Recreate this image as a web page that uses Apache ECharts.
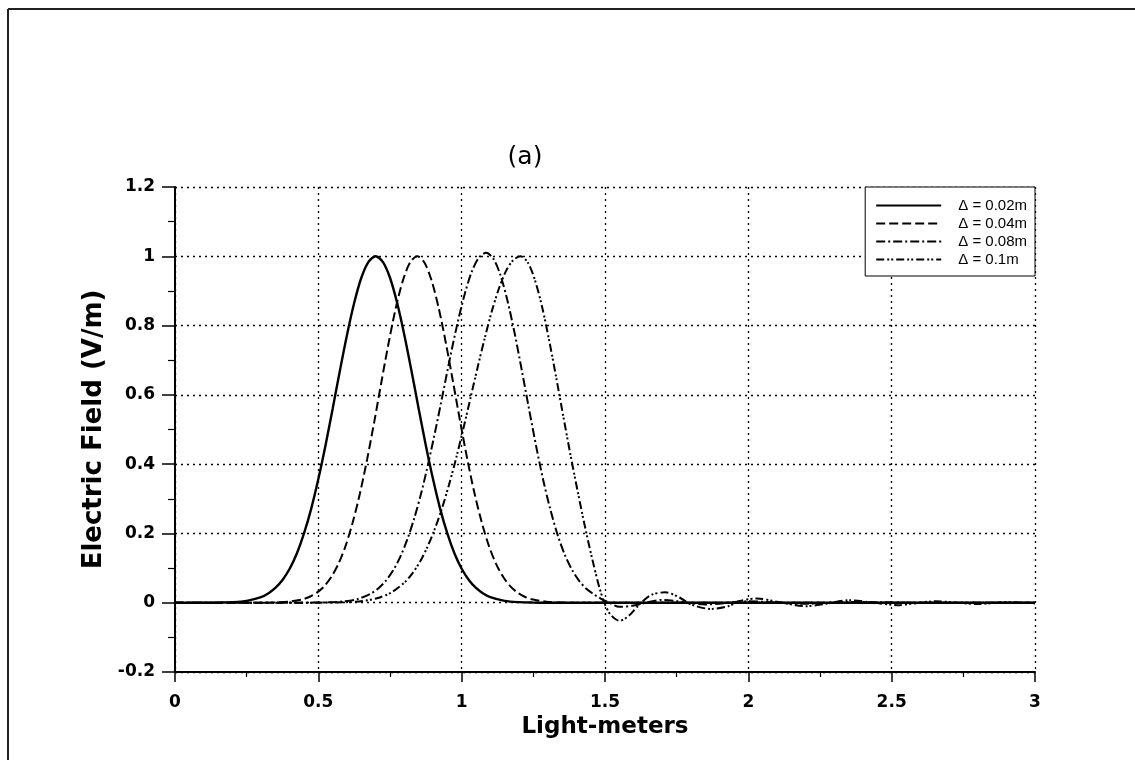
<!DOCTYPE html>
<html>
<head>
<meta charset="utf-8">
<script src="https://cdn.jsdelivr.net/npm/echarts@6/dist/echarts.min.js"></script>
<style>
html,body{margin:0;padding:0;background:#fff;}
#chart{width:1135px;height:760px;}
</style>
</head>
<body>
<div id="chart"></div>
<script>
// ---- data ----
const seriesNames = ['Δ = 0.02m', 'Δ = 0.04m', 'Δ = 0.08m', 'Δ = 0.1m'];
const xTicks = [0, 0.5, 1, 1.5, 2, 2.5, 3];
const yTicks = [-0.2, 0, 0.2, 0.4, 0.6, 0.8, 1, 1.2];

const s1X = [0,0.1,0.15,0.2,0.25,0.3,0.325,0.35,0.375,0.4,0.425,0.45,0.475,0.5,0.525,0.55,0.575,0.6,0.625,0.65,0.675,0.7,0.725,0.75,0.775,0.8,0.825,0.85,0.875,0.9,0.925,0.95,0.975,1.0,1.025,1.05,1.075,1.1,1.15,1.2,1.25,1.3,3.0];
const s1Y = [0,0,0.0004,0.0016,0.0054,0.0162,0.0267,0.0425,0.0657,0.098,0.142,0.2,0.271,0.357,0.454,0.56,0.669,0.773,0.865,0.938,0.984,1.0,0.984,0.938,0.865,0.773,0.669,0.56,0.454,0.357,0.271,0.2,0.142,0.098,0.0657,0.0425,0.0267,0.0162,0.0054,0.0016,0.0004,0,0];

const s2X = [0,0.3,0.345,0.395,0.445,0.47,0.495,0.52,0.545,0.57,0.595,0.62,0.645,0.67,0.695,0.72,0.745,0.77,0.795,0.82,0.845,0.87,0.895,0.92,0.945,0.97,0.995,1.02,1.045,1.07,1.095,1.12,1.145,1.17,1.195,1.22,1.245,1.295,1.345,1.4,3.0];
const s2Y = [0,0,0.0007,0.0029,0.0098,0.0172,0.029,0.0472,0.0742,0.112,0.164,0.232,0.315,0.413,0.522,0.637,0.749,0.85,0.93,0.982,1.0,0.982,0.93,0.85,0.749,0.637,0.522,0.413,0.315,0.232,0.164,0.112,0.0742,0.0472,0.029,0.0172,0.0098,0.0029,0.0007,0,0];

const s3X = [0,0.4,0.485,0.535,0.585,0.635,0.685,0.71,0.735,0.76,0.785,0.81,0.835,0.86,0.885,0.91,0.935,0.96,0.985,1.01,1.035,1.06,1.085,1.11,1.135,1.16,1.185,1.21,1.235,1.26,1.285,1.31,1.335,1.36,1.385,1.41,1.435,1.46,1.485,1.51,1.55,1.6,1.7,1.85,2.0,2.2,2.35,2.6,3.0];
const s3Y = [0,0,0.0003,0.001,0.0035,0.01,0.027,0.042,0.063,0.092,0.131,0.182,0.245,0.32,0.408,0.504,0.606,0.709,0.805,0.889,0.955,0.996,1.01,0.994,0.946,0.871,0.777,0.67,0.559,0.451,0.352,0.267,0.195,0.138,0.095,0.063,0.04,0.025,0.012,0.002,-0.012,-0.008,0.008,-0.005,0.004,-0.003,0.002,0,0];

const s4X = [0,0.45,0.505,0.605,0.655,0.705,0.755,0.805,0.83,0.855,0.88,0.905,0.93,0.955,0.98,1.005,1.03,1.055,1.08,1.105,1.13,1.155,1.18,1.205,1.23,1.255,1.28,1.305,1.33,1.355,1.38,1.405,1.43,1.455,1.48,1.5,1.52,1.55,1.58,1.62,1.66,1.71,1.76,1.8,1.87,1.93,1.97,2.03,2.1,2.2,2.27,2.35,2.43,2.52,2.58,2.65,2.73,2.8,2.9,3.0];
const s4Y = [0,0,0.0002,0.0019,0.0052,0.013,0.0297,0.062,0.087,0.119,0.16,0.21,0.269,0.338,0.415,0.4995,0.588,0.677,0.762,0.841,0.907,0.958,0.989,1.0,0.983,0.933,0.856,0.758,0.649,0.536,0.425,0.32,0.22,0.128,0.045,-0.005,-0.035,-0.052,-0.04,-0.005,0.022,0.03,0.015,-0.005,-0.018,-0.01,0.005,0.012,0.003,-0.01,-0.003,0.007,0.001,-0.007,-0.002,0.004,0,-0.004,0.002,-0.002];

// ---- build ----
const zip = (xs, ys) => xs.map((x, i) => [x, ys[i]]);
const dashes = ['solid', [9, 4], [9, 3, 2, 3], [8, 3, 2, 2, 2, 3]];
const widths = [2.4, 2, 2, 2];
const allData = [zip(s1X, s1Y), zip(s2X, s2Y), zip(s3X, s3Y), zip(s4X, s4Y)];

const fmt = v => String(Math.round(v * 10) / 10);

const chart = echarts.init(document.getElementById('chart'), null, {renderer: 'canvas'});
chart.setOption({
  animation: false,
  backgroundColor: '#fff',
  title: {
    text: '(a)',
    left: 520, top: 152, textAlign: 'center', textVerticalAlign: 'middle',
    textStyle: {fontFamily: 'DejaVu Sans', fontSize: 25, fontWeight: 'normal', color: '#000'}
  },
  grid: {left: 175, right: 100, top: 187, bottom: 88, containLabel: false},
  legend: {
    data: seriesNames,
    orient: 'vertical',
    right: 100, top: 187,
    padding: [11, 8, 9, 10],
    itemGap: 3,
    itemWidth: 65, itemHeight: 14,
    backgroundColor: '#fff',
    borderColor: '#000', borderWidth: 1,
    itemStyle: {opacity: 0, borderWidth: 0},
    textStyle: {fontFamily: 'Liberation Sans', fontSize: 15, color: '#000', padding: [0, 0, 0, 12]},
    inactiveColor: '#000'
  },
  xAxis: {
    type: 'value', min: 0, max: 3, interval: 0.5,
    name: 'Light-meters', nameLocation: 'middle', nameGap: 42,
    nameTextStyle: {fontFamily: 'DejaVu Sans', fontWeight: 'bold', fontSize: 23, color: '#000'},
    axisLine: {show: true, onZero: false, lineStyle: {color: '#000', width: 2}},
    axisTick: {show: true, inside: false, length: 10, lineStyle: {color: '#000', width: 1.5}},
    minorTick: {show: true, splitNumber: 2, length: 5, lineStyle: {color: '#000', width: 1.2}},
    axisLabel: {margin: 22, fontFamily: 'DejaVu Sans', fontWeight: 'bold', fontSize: 17, color: '#000',
      formatter: v => { const t = xTicks.find(k => Math.abs(k - v) < 1e-6); return t === undefined ? '' : String(t); }},
    splitLine: {show: true, lineStyle: {color: '#000', width: 1.3, type: [2, 4]}}
  },
  yAxis: {
    type: 'value', min: -0.2, max: 1.2, interval: 0.2,
    name: 'Electric Field (V/m)', nameLocation: 'middle', nameGap: 61,
    nameTextStyle: {fontFamily: 'DejaVu Sans', fontWeight: 'bold', fontSize: 26, color: '#000'},
    axisLine: {show: true, onZero: false, lineStyle: {color: '#000', width: 2}},
    axisTick: {show: true, inside: false, length: 13, lineStyle: {color: '#000', width: 1.5}},
    minorTick: {show: true, splitNumber: 2, length: 7, lineStyle: {color: '#000', width: 1.2}},
    axisLabel: {margin: 20, fontFamily: 'DejaVu Sans', fontWeight: 'bold', fontSize: 17, color: '#000',
      formatter: v => { const t = yTicks.find(k => Math.abs(k - v) < 1e-6); return t === undefined ? '' : fmt(t); }},
    splitLine: {show: true, lineStyle: {color: '#000', width: 1.3, type: [2, 4]}}
  },
  graphic: [
    {type: 'line', shape: {x1: 8, y1: 9, x2: 1135, y2: 9}, style: {stroke: '#222', lineWidth: 2}},
    {type: 'line', shape: {x1: 8, y1: 9, x2: 8, y2: 760}, style: {stroke: '#222', lineWidth: 2}}
  ],
  series: seriesNames.map((n, i) => ({
    name: n,
    type: 'line',
    data: allData[i],
    showSymbol: false,
    symbol: 'none',
    smooth: 0.3,
    clip: true,
    itemStyle: {color: '#000'},
    lineStyle: {color: '#000', width: widths[i], type: dashes[i]},
    z: 10 - i
  }))
});
</script>
</body>
</html>
